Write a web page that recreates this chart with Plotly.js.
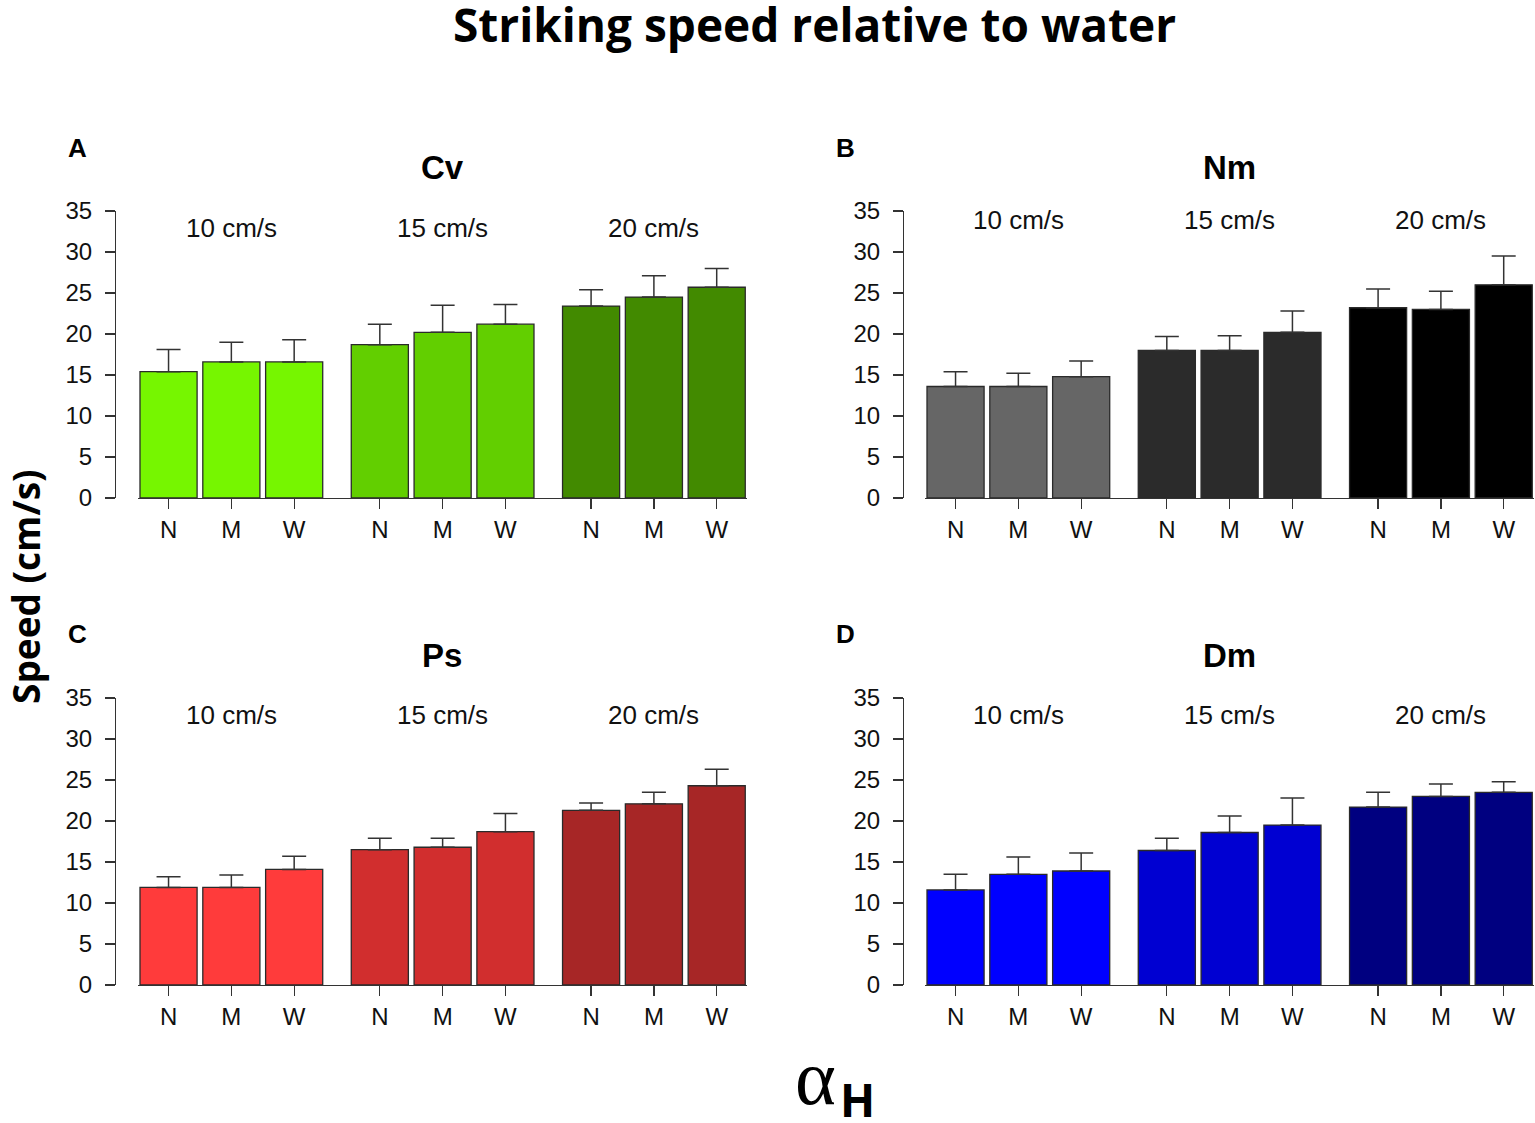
<!DOCTYPE html>
<html>
<head>
<meta charset="utf-8">
<script src="https://cdn.plot.ly/plotly-3.0.1.min.js"></script>
<style>html,body{margin:0;padding:0;background:#fff;}#chart{width:1535px;height:1123px;}</style>
</head>
<body>
<div id="chart"></div>
<script>
// ---- data ----
const categories = ['N', 'M', 'W'];
const flowSpeeds = ['10 cm/s', '15 cm/s', '20 cm/s'];
const panelLetters = ['A', 'B', 'C', 'D'];
const species = ['Cv', 'Nm', 'Ps', 'Dm'];

// mean speed (cm/s), order: 10 cm/s N,M,W | 15 cm/s N,M,W | 20 cm/s N,M,W
const cvMean  = [15.4, 16.6, 16.6, 18.7, 20.2, 21.2, 23.4, 24.5, 25.7];
const cvUpper = [18.1, 19.0, 19.3, 21.2, 23.5, 23.6, 25.4, 27.1, 28.0];
const nmMean  = [13.6, 13.6, 14.8, 18.0, 18.0, 20.2, 23.2, 23.0, 26.0];
const nmUpper = [15.4, 15.2, 16.7, 19.7, 19.8, 22.8, 25.5, 25.2, 29.5];
const psMean  = [11.9, 11.9, 14.1, 16.5, 16.8, 18.7, 21.3, 22.1, 24.3];
const psUpper = [13.2, 13.4, 15.7, 17.9, 17.9, 20.9, 22.2, 23.5, 26.3];
const dmMean  = [11.6, 13.5, 13.9, 16.4, 18.6, 19.5, 21.7, 23.0, 23.5];
const dmUpper = [13.5, 15.6, 16.1, 17.9, 20.6, 22.8, 23.5, 24.5, 24.8];

const yTicks = [0, 5, 10, 15, 20, 25, 30, 35];

// ---- styling ----
const W = 1535, H = 1123;
const colors = [
  ['#76F600', '#62CF00', '#428A00'],
  ['#666666', '#2B2B2B', '#000000'],
  ['#FF3B3B', '#D12E2E', '#A72626'],
  ['#0000FF', '#0000D2', '#000080']
];
const means = [cvMean, nmMean, psMean, dmMean];
const uppers = [cvUpper, nmUpper, psUpper, dmUpper];

// panel geometry in pixels
const unit = 57.1; // px per bar width
const panels = [
  {barLeft: 140, axisX: 115, yTop: 211, yBot: 498, letterX: 77, letterY: 148, titleX: 442, titleY: 167, grpY: 32.9},
  {barLeft: 927, axisX: 903, yTop: 211, yBot: 498, letterX: 846, letterY: 148, titleX: 1229, titleY: 167, grpY: 33.9},
  {barLeft: 140, axisX: 115, yTop: 698, yBot: 985, letterX: 77, letterY: 634, titleX: 442, titleY: 655, grpY: 32.9},
  {barLeft: 927, axisX: 903, yTop: 698, yBot: 985, letterX: 846, letterY: 634, titleX: 1229, titleY: 655, grpY: 32.9}
];

const barSpace = 0.1, groupSpace = 0.5;
const groupStride = categories.length + (categories.length - 1) * barSpace + groupSpace;
function center(g, i) { return g * groupStride + i * (1 + barSpace) + 0.5; }
const totalSpan = flowSpeeds.length * groupStride - groupSpace;
const xr = [-0.03, totalSpan + 0.03];

const font = 'Liberation Sans, Arial, sans-serif';
const traces = [];
const layout = {
  width: W, height: H,
  margin: {l: 0, r: 0, t: 0, b: 0},
  paper_bgcolor: '#fff', plot_bgcolor: 'rgba(0,0,0,0)',
  showlegend: false,
  bargap: 0,
  annotations: [],
  font: {family: font, color: '#111'}
};

panels.forEach((p, k) => {
  const xa = k === 0 ? 'x' : 'x' + (k + 1);
  const ya = k === 0 ? 'y' : 'y' + (k + 1);
  const xKey = k === 0 ? 'xaxis' : 'xaxis' + (k + 1);
  const yKey = k === 0 ? 'yaxis' : 'yaxis' + (k + 1);
  const tickvals = [], ticktext = [];
  flowSpeeds.forEach((fs, g) => {
    const xs = categories.map((c, i) => center(g, i));
    const ys = categories.map((c, i) => means[k][g * 3 + i]);
    const ep = categories.map((c, i) => uppers[k][g * 3 + i] - means[k][g * 3 + i]);
    traces.push({
      type: 'bar', x: xs, y: ys, width: 1, xaxis: xa, yaxis: ya,
      marker: {color: colors[k][g], line: {color: '#2a2a2a', width: 1.3}},
      error_y: {type: 'data', symmetric: false, array: ep, arrayminus: categories.map(() => 0),
                color: '#333', thickness: 1.5, width: 12},
      hoverinfo: 'skip'
    });
    xs.forEach((x, i) => { tickvals.push(x); ticktext.push(categories[i]); });
    layout.annotations.push({
      xref: xa, yref: ya, x: center(g, 1), y: p.grpY, text: fs, showarrow: false,
      font: {family: font, size: 26, color: '#111'}, xanchor: 'center', yanchor: 'middle'
    });
  });
  const x0 = p.barLeft + xr[0] * unit, x1 = p.barLeft + xr[1] * unit;
  layout[xKey] = {
    domain: [x0 / W, Math.min(1, x1 / W)], range: xr, anchor: ya,
    tickvals: tickvals, ticktext: ticktext, ticks: 'outside', ticklen: 10, tickwidth: 1.3, tickcolor: '#333',
    showline: true, linecolor: '#333', linewidth: 1.3, showgrid: false, zeroline: false,
    tickfont: {family: font, size: 24, color: '#111'}, ticklabelstandoff: 0, fixedrange: true
  };
  layout[yKey] = {
    domain: [1 - p.yBot / H, 1 - p.yTop / H], range: [0, 35], anchor: 'free', position: p.axisX / W,
    tickvals: yTicks, ticks: 'outside', ticklen: 10, tickwidth: 1.3, tickcolor: '#333',
    showline: true, linecolor: '#333', linewidth: 1.3, showgrid: false, zeroline: false,
    tickfont: {family: font, size: 24, color: '#111'}, ticklabelstandoff: 8, fixedrange: true
  };
  layout.annotations.push({
    xref: 'paper', yref: 'paper', x: p.letterX / W, y: 1 - p.letterY / H, text: '<b>' + panelLetters[k] + '</b>',
    showarrow: false, xanchor: 'center', yanchor: 'middle', font: {family: font, size: 26, color: '#000'}
  });
  layout.annotations.push({
    xref: 'paper', yref: 'paper', x: p.titleX / W, y: 1 - p.titleY / H, text: '<b>' + species[k] + '</b>',
    showarrow: false, xanchor: 'center', yanchor: 'middle', font: {family: font, size: 33, color: '#000'}
  });
});

// global titles
layout.annotations.push({
  xref: 'paper', yref: 'paper', x: 814 / W, y: 1, yshift: 9, text: '<b>Striking speed relative to water</b>',
  showarrow: false, xanchor: 'center', yanchor: 'top', font: {family: 'Open Sans, sans-serif', size: 46, color: '#000'}
});
layout.annotations.push({
  xref: 'paper', yref: 'paper', x: 25 / W, y: 1 - 587 / H, text: '<b>Speed (cm/s)</b>', textangle: -90,
  showarrow: false, xanchor: 'center', yanchor: 'middle', font: {family: 'Open Sans, sans-serif', size: 37, color: '#000'}
});
layout.annotations.push({
  xref: 'paper', yref: 'paper', x: 815 / W, y: 0, text: 'α',
  showarrow: false, xanchor: 'center', yanchor: 'bottom', font: {family: 'Liberation Serif, serif', size: 78, color: '#000'}
});
layout.annotations.push({
  xref: 'paper', yref: 'paper', x: 857 / W, y: 0, yshift: -9, text: '<b>H</b>',
  showarrow: false, xanchor: 'center', yanchor: 'bottom', font: {family: 'Open Sans, sans-serif', size: 46, color: '#000'}
});

Plotly.newPlot('chart', traces, layout, {displayModeBar: false, staticPlot: true});
</script>
</body>
</html>
